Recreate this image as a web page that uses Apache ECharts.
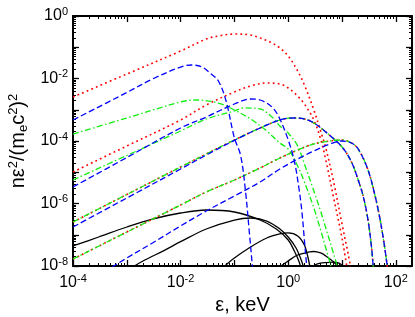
<!DOCTYPE html>
<html><head><meta charset="utf-8">
<script src="https://cdn.jsdelivr.net/npm/echarts@6/dist/echarts.min.js"></script>
<style>html,body{margin:0;padding:0;background:#fff}#c{width:415px;height:317px}</style>
</head><body><div id="c"></div>
<script>
// ---- axis ticks / labels ----
const xMajorTicks = [1e-4, 1e-3, 1e-2, 1e-1, 1, 10, 100];
const xLabelTicks = [1e-4, 1e-2, 1, 100];
const yMajorTicks = [1e-8, 1e-7, 1e-6, 1e-5, 1e-4, 1e-3, 1e-2, 1e-1, 1];
const yLabelTicks = [1e-8, 1e-6, 1e-4, 1e-2, 1];
function minorTicks(lo, hi) { const out = []; for (let e = lo; e < hi; e++) for (let m = 2; m <= 9; m++) out.push(+(m * Math.pow(10, e)).toPrecision(3)); return out; }
const xMinorTicks = minorTicks(-4, 2);
const yMinorTicks = minorTicks(-8, 0);

// ---- series values [energy keV, n eps^2/(me c^2)^2] ----
const R1 = [[1e-4,2.56e-3],[1e-3,1.39e-2],[1e-2,7.59e-2],[3e-2,0.184],[5e-2,0.229],[0.1,0.265],[0.2,0.247],[0.3,0.198],[0.5,0.137],[0.7,0.0946],[1,0.0525],[1.5,0.0174],[2,6.19e-3],[3,9.82e-4],[4,2.09e-4],[5,5.97e-5],[7,4.88e-6],[10,2.21e-7],[13,2.42e-8],[16,3.56e-9]];
const B1 = [[1e-4,4.70e-4],[1e-3,3.56e-3],[3e-3,9.64e-3],[1e-2,0.0233],[1.6e-2,0.0270],[2.5e-2,0.0233],[3.5e-2,0.0150],[5e-2,8.5e-3],[7e-2,1.91e-3],[0.1,1.25e-4],[0.13,3.56e-5],[0.16,2.70e-6],[0.19,1.14e-7],[0.215,1.08e-8],[0.24,1.17e-9]];
const G1 = [[1e-4,1.67e-4],[1e-3,5.45e-4],[1e-2,1.77e-3],[2e-2,2.05e-3],[5e-2,1.64e-3],[0.1,9.82e-4],[0.2,5.06e-4],[0.4,2.09e-4],[0.7,8.63e-5],[1,5.55e-5],[1.5,1.58e-5],[2,4.88e-6],[3,7.18e-7],[4,1.42e-7],[5,3.77e-8],[6,1.25e-8],[7,4.79e-9]];
const R2 = [[1e-4,1.02e-5],[1e-3,6.92e-5],[1e-2,4.70e-4],[3e-2,1.42e-3],[0.1,3.70e-3],[0.2,5.75e-3],[0.4,7.18e-3],[0.7,6.67e-3],[1,4.97e-3],[1.5,2.75e-3],[2,1.53e-3],[3,4.70e-4],[4,1.16e-4],[5,2.47e-5],[7,1.50e-6],[10,7.87e-8],[13,5.15e-9]];
const B2 = [[1e-4,3.37e-6],[1e-3,2.96e-5],[1e-2,2.61e-4],[3e-2,5.86e-4],[0.1,1.53e-3],[0.2,2.21e-3],[0.3,2.05e-3],[0.5,1.22e-3],[0.7,5.06e-4],[1,1.08e-4],[1.3,2.29e-5],[1.6,2.70e-6],[1.8,5.35e-7],[2.0,6.79e-8],[2.2,1.0e-8],[2.4,1.17e-9]];
const G2 = [[1e-4,5.65e-6],[1e-3,3.44e-5],[1e-2,2.09e-4],[3e-2,5.06e-4],[0.1,9.12e-4],[0.15,1.14e-3],[0.3,1.06e-3],[0.5,5.86e-4],[0.7,3.02e-4],[1,1.80e-4],[1.5,6.92e-5],[2,1.84e-5],[3,2.51e-6],[4,5.75e-7],[5,1.64e-7],[7,2.42e-8],[9,5.55e-9]];
const R3 = [[1e-4,2.56e-7],[1e-3,1.94e-6],[1e-2,1.47e-5],[3e-2,3.84e-5],[0.1,1.08e-4],[0.3,2.61e-4],[0.7,4.70e-4],[1.2,5.45e-4],[2,5.06e-4],[3,3.77e-4],[5,1.94e-4],[10,6.43e-5],[15,2.13e-5],[20,5.65e-6],[25,1.61e-6],[30,3.44e-7],[35,4.70e-8],[38,1e-8],[42,1.17e-9]];
const G3 = [[1e-4,2.56e-7],[1e-3,1.94e-6],[1e-2,1.47e-5],[3e-2,3.84e-5],[0.1,1.08e-4],[0.3,2.61e-4],[0.7,4.70e-4],[1.2,5.45e-4],[2,5.06e-4],[3,3.77e-4],[5,1.94e-4],[10,6.43e-5],[15,2.13e-5],[20,5.65e-6],[25,1.61e-6],[30,3.44e-7],[35,4.70e-8],[38,1e-8],[42,1.17e-9]];
const B3 = [[1e-4,1.77e-7],[1e-3,1.50e-6],[1e-2,1.27e-5],[3e-2,3.56e-5],[0.1,1.05e-4],[0.3,2.61e-4],[0.7,4.70e-4],[1.2,5.45e-4],[2,5.06e-4],[3,3.77e-4],[5,1.94e-4],[10,6.43e-5],[15,2.13e-5],[20,5.65e-6],[25,1.61e-6],[30,3.44e-7],[35,4.70e-8],[38,1e-8],[42,1.17e-9]];
const R4 = [[1e-4,1.67e-8],[1e-3,1.22e-7],[1e-2,8.95e-7],[3e-2,2.33e-6],[0.1,5.65e-6],[0.3,1.37e-5],[0.7,2.86e-5],[1.5,5.15e-5],[3,8.02e-5],[6,1.0e-4],[10,1.08e-4],[15,8.63e-5],[20,5.55e-5],[30,1.27e-5],[40,2.17e-6],[50,3.70e-7],[60,5.86e-8],[70,8.63e-9],[80,1.17e-9]];
const G4 = [[1e-4,1.67e-8],[1e-3,1.22e-7],[1e-2,8.95e-7],[3e-2,2.33e-6],[0.1,5.65e-6],[0.3,1.37e-5],[0.7,2.86e-5],[1.5,5.15e-5],[3,8.02e-5],[6,1.0e-4],[10,1.08e-4],[15,8.63e-5],[20,5.55e-5],[30,1.27e-5],[40,2.17e-6],[50,3.70e-7],[60,5.86e-8],[70,8.63e-9],[80,1.17e-9]];
const B4 = [[2e-4,3.09e-9],[5e-4,8.63e-9],[1e-3,1.80e-8],[3e-3,5.45e-8],[1e-2,1.91e-7],[3e-2,5.75e-7],[0.1,1.74e-6],[0.3,4.88e-6],[0.7,1.27e-5],[1.5,2.65e-5],[3,4.79e-5],[6,8.02e-5],[10,1.0e-4],[15,8.63e-5],[20,5.55e-5],[30,1.27e-5],[40,2.17e-6],[50,3.70e-7],[60,5.86e-8],[70,8.63e-9],[80,1.17e-9]];
const K1 = [[1e-4,4.37e-8],[3e-4,8.47e-8],[1e-3,1.77e-7],[3e-3,3.19e-7],[1e-2,4.97e-7],[3e-2,6.19e-7],[0.1,5.35e-7],[0.3,2.96e-7],[0.6,1.53e-7],[1,6.79e-8],[1.3,3.02e-8],[1.6,1.34e-8],[1.8,6.46e-9]];
const K2 = [[1.2e-3,8.63e-9],[2e-3,1.45e-8],[5e-3,3.18e-8],[1e-2,6.0e-8],[3e-2,1.53e-7],[0.1,2.96e-7],[0.2,3.44e-7],[0.4,2.75e-7],[0.7,1.53e-7],[1,8.47e-8],[1.4,3.77e-8],[1.8,1.34e-8],[2.0,7.45e-9]];
const K3 = [[0.06,8.63e-9],[0.1,1.80e-8],[0.2,4.06e-8],[0.4,7.87e-8],[0.7,1.06e-7],[1,1.14e-7],[1.5,9.12e-8],[2,4.70e-8],[2.3,2.09e-8],[2.6,7.45e-9]];
const K4 = [[0.65,8.63e-9],[1,1.45e-8],[1.5,2.25e-8],[2.5,2.81e-8],[3,2.91e-8],[4,2.61e-8],[5,2.09e-8],[7,1.34e-8],[9,8.63e-9]];
const K5 = [[2.8,9.3e-9],[3.5,1.16e-8],[5,1.29e-8],[7,1.34e-8],[9,1.22e-8],[11,9.3e-9]];

const FONT = 'Liberation Sans, Arial, sans-serif';
const tickRich = {
  b: { fontSize: 16, fontFamily: FONT, color: '#000' },
  s: { fontSize: 11, fontFamily: FONT, color: '#000', padding: [0, 0, 9, 0] }
};
function sci(v) { const e = Math.round(Math.log10(v)); return '{b|10}{s|' + e + '}'; }

function makeAxis(kind, pos, ticks, len, w, labels, lineShow) {
  const isX = kind === 'x';
  return {
    type: 'log', logBase: 10,
    min: isX ? 1e-4 : 1e-8, max: isX ? 200 : 1,
    position: pos, gridIndex: 0,
    axisLine: { show: lineShow, onZero: false, lineStyle: { color: '#000', width: 2 } },
    axisTick: { show: true, inside: true, length: len, customValues: ticks, lineStyle: { color: '#000', width: w } },
    axisLabel: labels ? { show: true, customValues: labels, formatter: sci, margin: isX ? 7 : 5, rich: tickRich } : { show: false },
    splitLine: { show: false }, minorTick: { show: false }, minorSplitLine: { show: false },
    silent: true
  };
}

const xAxes = [
  makeAxis('x', 'bottom', xMajorTicks, 6, 1.3, xLabelTicks, true),
  makeAxis('x', 'bottom', xMinorTicks, 3, 1, null, false),
  makeAxis('x', 'top', xMajorTicks, 6, 1.3, null, true),
  makeAxis('x', 'top', xMinorTicks, 3, 1, null, false)
];
xAxes[0].name = 'ε, keV';
xAxes[0].nameLocation = 'middle';
xAxes[0].nameGap = 28;
xAxes[0].nameTextStyle = { fontSize: 20, fontFamily: FONT, color: '#000' };

const yAxes = [
  makeAxis('y', 'left', yMajorTicks, 6, 1.3, yLabelTicks, true),
  makeAxis('y', 'left', yMinorTicks, 3, 1, null, false),
  makeAxis('y', 'right', yMajorTicks, 6, 1.3, null, true),
  makeAxis('y', 'right', yMinorTicks, 3, 1, null, false)
];
yAxes[0].name = '{t|nε}{s|2}{t|/(m}{u|e}{t|c}{s|2}{t|)}{s|2}';
yAxes[0].nameLocation = 'middle';
yAxes[0].nameRotate = 90;
yAxes[0].nameGap = 40;
yAxes[0].nameTextStyle = {
  fontSize: 20, fontFamily: FONT, color: '#000',
  rich: {
    t: { fontSize: 20, fontFamily: FONT, color: '#000' },
    s: { fontSize: 13, fontFamily: FONT, color: '#000', padding: [0, 0, 10, 0] },
    u: { fontSize: 13, fontFamily: FONT, color: '#000', padding: [9, 0, 0, 0] }
  }
};

const RED = '#ff0000', GREEN = '#11ee11', BLUE = '#0000ff', BLACK = '#000000';
const DOT = [1.8, 3.2], DASH = [6, 3], DASHDOT = [6, 2.5, 1.5, 2.5];
function line(data, color, type, width) {
  return {
    type: 'line', data: data, xAxisIndex: 0, yAxisIndex: 0,
    showSymbol: false, symbol: 'none', smooth: 0.35, clip: true, silent: true,
    lineStyle: { color: color, type: type, width: width || 1.3 }
  };
}

const series = [
  line(K1, BLACK, 'solid', 1.3), line(K2, BLACK, 'solid', 1.3), line(K3, BLACK, 'solid', 1.3),
  line(K4, BLACK, 'solid', 1.3), line(K5, BLACK, 'solid', 1.3),
  line(R1, RED, DOT, 1.6), line(R2, RED, DOT, 1.6), line(R3, RED, DOT, 1.6), line(R4, RED, DOT, 1.6),
  line(G1, GREEN, DASHDOT), line(G2, GREEN, DASHDOT), line(G3, GREEN, DASHDOT), line(G4, GREEN, DASHDOT),
  line(B1, BLUE, DASH), line(B2, BLUE, DASH), line(B3, BLUE, DASH), line(B4, BLUE, DASH)
];

const chart = echarts.init(document.getElementById('c'), null, { renderer: 'canvas' });
chart.setOption({
  animation: false,
  backgroundColor: '#ffffff',
  grid: { left: 73, right: 3, top: 16, bottom: 51, containLabel: false, outerBoundsMode: 'none' },
  xAxis: xAxes,
  yAxis: yAxes,
  series: series
});
</script>
</body></html>
